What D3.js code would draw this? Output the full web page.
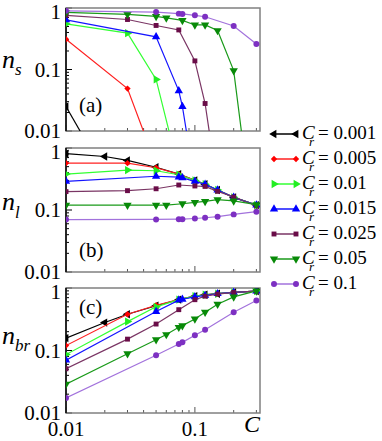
<!DOCTYPE html>
<html>
<head>
<meta charset="utf-8">
<script src="https://cdn.jsdelivr.net/npm/d3@7"></script>
<style>
  body { margin: 0; background: #fff; }
</style>
</head>
<body>
<script>
// C_r values and legend text
const crLabels = ["0.001", "0.005", "0.01", "0.015", "0.025", "0.05", "0.1"];
const colors = ["#000000", "#ff0000", "#22ee22", "#0000ff", "#6a0d48", "#088a08", "#7d30c2"];
const lineColors = ["#000000", "#ff2020", "#33ff33", "#1515ff", "#7a3564", "#1a9a1a", "#a272dc"];
const shapes = ["left", "diamond", "right", "up", "square", "down", "circle"];

// panel (a): n_s vs C
const nsData = [
  [[0.01, 0.025], [0.02, 0.002]],
  [[0.01, 0.31], [0.03, 0.049], [0.05, 0.0028]],
  [[0.01, 0.55], [0.03, 0.39], [0.05, 0.069], [0.075, 0.0023]],
  [[0.01, 0.64], [0.05, 0.34], [0.075, 0.045], [0.08, 0.025], [0.1, 0.0014]],
  [[0.01, 0.76], [0.03, 0.65], [0.05, 0.52], [0.075, 0.44], [0.1, 0.138], [0.12, 0.028], [0.15, 0.0012]],
  [[0.01, 0.85], [0.03, 0.79], [0.05, 0.73], [0.06, 0.69], [0.08, 0.63], [0.1, 0.53], [0.12, 0.53], [0.15, 0.43], [0.2, 0.096], [0.3, 0.00012]],
  [[0.01, 0.90], [0.05, 0.86], [0.075, 0.81], [0.08, 0.80], [0.1, 0.76], [0.12, 0.72], [0.2, 0.51], [0.3, 0.26]]
];

// panel (b): n_l vs C
const nlData = [
  [[0.01, 0.81], [0.02, 0.73], [0.03, 0.63], [0.05, 0.49], [0.075, 0.38], [0.1, 0.30], [0.12, 0.26], [0.15, 0.21], [0.2, 0.16], [0.3, 0.12]],
  [[0.01, 0.57], [0.03, 0.57], [0.05, 0.48], [0.075, 0.38], [0.1, 0.30], [0.12, 0.26], [0.15, 0.21], [0.2, 0.16], [0.3, 0.12]],
  [[0.01, 0.38], [0.03, 0.44], [0.05, 0.43], [0.075, 0.37], [0.1, 0.30], [0.12, 0.26], [0.15, 0.21], [0.2, 0.16], [0.3, 0.12]],
  [[0.01, 0.29], [0.05, 0.35], [0.075, 0.34], [0.08, 0.33], [0.1, 0.29], [0.12, 0.26], [0.15, 0.21], [0.2, 0.16], [0.3, 0.12]],
  [[0.01, 0.198], [0.03, 0.205], [0.05, 0.22], [0.075, 0.253], [0.1, 0.244], [0.12, 0.24], [0.15, 0.20], [0.2, 0.162], [0.3, 0.117]],
  [[0.01, 0.12], [0.03, 0.12], [0.05, 0.12], [0.06, 0.12], [0.08, 0.126], [0.1, 0.133], [0.12, 0.138], [0.15, 0.147], [0.2, 0.14], [0.3, 0.122]],
  [[0.01, 0.07], [0.05, 0.0705], [0.075, 0.071], [0.08, 0.071], [0.1, 0.073], [0.12, 0.075], [0.15, 0.078], [0.2, 0.085], [0.3, 0.094]]
];

// panel (c): n_br vs C
const nbrData = [
  [[0.01, 0.158], [0.02, 0.28], [0.03, 0.38], [0.05, 0.52], [0.075, 0.65], [0.1, 0.74], [0.12, 0.78], [0.15, 0.81], [0.2, 0.85], [0.3, 0.89]],
  [[0.01, 0.12], [0.03, 0.38], [0.05, 0.53], [0.075, 0.65], [0.1, 0.74], [0.12, 0.78], [0.15, 0.81], [0.2, 0.85], [0.3, 0.89]],
  [[0.01, 0.086], [0.03, 0.29], [0.05, 0.50], [0.075, 0.65], [0.1, 0.74], [0.12, 0.78], [0.15, 0.81], [0.2, 0.85], [0.3, 0.89]],
  [[0.01, 0.07], [0.05, 0.42], [0.075, 0.64], [0.08, 0.66], [0.1, 0.72], [0.12, 0.76], [0.15, 0.81], [0.2, 0.85], [0.3, 0.89]],
  [[0.01, 0.051], [0.03, 0.152], [0.05, 0.265], [0.075, 0.45], [0.1, 0.65], [0.12, 0.74], [0.15, 0.80], [0.2, 0.85], [0.3, 0.89]],
  [[0.01, 0.029], [0.03, 0.089], [0.05, 0.149], [0.06, 0.18], [0.075, 0.235], [0.08, 0.25], [0.1, 0.32], [0.12, 0.41], [0.15, 0.55], [0.2, 0.72], [0.3, 0.90]],
  [[0.01, 0.0174], [0.05, 0.084], [0.075, 0.127], [0.08, 0.135], [0.1, 0.175], [0.12, 0.215], [0.2, 0.41], [0.3, 0.63]]
];

const yTicks = [0.01, 0.1, 1];
const xTicks = [0.01, 0.1];
const panelNames = ["(a)", "(b)", "(c)"];
const yNames = ["s", "l", "br"];

const W = 382, H = 441;
const FONT = "Liberation Serif";
const svg = d3.select("body").append("svg")
  .attr("width", W).attr("height", H);

// every text gets the serif family directly
function label(sel, px, py, size, str, italic) {
  return sel.append("text")
    .attr("x", px).attr("y", py)
    .attr("font-family", FONT)
    .attr("font-size", size)
    .attr("font-style", italic ? "italic" : "normal")
    .text(str);
}

const x = d3.scaleLog().domain([0.01, 0.32]).range([66, 260]);

const panels = [
  {data: nsData, top: 8, bottom: 131, nBase: 68, subBase: 75, labBase: 112},
  {data: nlData, top: 148, bottom: 272, nBase: 210, subBase: 218, labBase: 257},
  {data: nbrData, top: 288, bottom: 413, nBase: 344, subBase: 351, labBase: 314}
];

function symbolPath(shape) {
  const sym = {
    left: d3.symbolTriangle, right: d3.symbolTriangle, up: d3.symbolTriangle, down: d3.symbolTriangle,
    diamond: d3.symbolSquare, square: d3.symbolSquare, circle: d3.symbolCircle
  }[shape];
  const size = {left: 30, right: 30, up: 30, down: 30, diamond: 20, square: 24, circle: 28}[shape];
  return d3.symbol(sym, size)();
}
function symbolRot(shape) {
  return {left: -90, right: 90, down: 180, diamond: 45}[shape] || 0;
}

const minors = [];
[0.01, 0.1].forEach(d => { for (let k = 2; k <= 9; k++) minors.push(d * k); });

panels.forEach((p, pi) => {
  const y = d3.scaleLog().domain([0.01, 1]).range([p.bottom, p.top]);
  const g = svg.append("g");

  svg.append("clipPath").attr("id", "clip" + pi)
    .append("rect")
    .attr("x", 66).attr("y", p.top)
    .attr("width", 260 - 66).attr("height", p.bottom - p.top);

  // ticks (inward)
  minors.filter(v => v < 0.32).forEach(v => {
    g.append("line").attr("x1", x(v)).attr("x2", x(v))
      .attr("y1", p.bottom).attr("y2", p.bottom - 3)
      .attr("stroke", "#555").attr("stroke-width", 1);
  });
  xTicks.forEach(v => {
    g.append("line").attr("x1", x(v)).attr("x2", x(v))
      .attr("y1", p.bottom).attr("y2", p.bottom - 6)
      .attr("stroke", "#555").attr("stroke-width", 1);
  });
  minors.forEach(v => {
    g.append("line").attr("x1", 66).attr("x2", 69)
      .attr("y1", y(v)).attr("y2", y(v))
      .attr("stroke", "#000").attr("stroke-width", 1);
  });
  yTicks.forEach(v => {
    g.append("line").attr("x1", 66).attr("x2", 72)
      .attr("y1", y(v)).attr("y2", y(v))
      .attr("stroke", "#000").attr("stroke-width", 1);
  });

  // frame
  g.append("rect").attr("x", 66).attr("y", p.top)
    .attr("width", 260 - 66).attr("height", p.bottom - p.top)
    .attr("fill", "none").attr("stroke", "#808080").attr("stroke-width", 1.5);
  g.append("line").attr("x1", 66).attr("x2", 66)
    .attr("y1", p.top).attr("y2", p.bottom)
    .attr("stroke", "#000").attr("stroke-width", 1.5);

  // y tick labels
  yTicks.forEach(v => {
    label(g, 61, y(v) + (v === 1 ? 4 : 0), 21, v === 1 ? "1" : String(v), false)
      .attr("dy", "0.35em")
      .attr("text-anchor", "end");
  });

  // y axis name
  label(g, 2, p.nBase, 26, "n", true);
  label(g, 15, p.subBase, 17, yNames[pi], true);

  // panel label
  label(g, 79, p.labBase, 21, panelNames[pi], false);

  const plot = g.append("g").attr("clip-path", "url(#clip" + pi + ")");
  const line = d3.line().x(d => x(d[0])).y(d => y(d[1]));

  p.data.forEach((series, si) => {
    plot.append("path").datum(series)
      .attr("d", line)
      .attr("fill", "none")
      .attr("stroke", lineColors[si])
      .attr("stroke-width", 1.2);
    plot.selectAll(null).data(series).enter().append("path")
      .attr("d", symbolPath(shapes[si]))
      .attr("transform", d => "translate(" + x(d[0]) + "," + y(d[1]) + ") rotate(" + symbolRot(shapes[si]) + ")")
      .attr("fill", colors[si]);
  });
});

// x tick labels and axis name
xTicks.forEach(v => {
  label(svg, x(v), 436, 21, String(v), false).attr("text-anchor", "middle");
});
label(svg, 244, 432, 24, "C", true);

// legend
const legend = svg.append("g");
crLabels.forEach((lab, i) => {
  const ry = 134 + 25 * i;
  legend.append("line").attr("x1", 274).attr("x2", 296)
    .attr("y1", ry).attr("y2", ry)
    .attr("stroke", lineColors[i]).attr("stroke-width", 1.5);
  [274, 296].forEach(px => {
    legend.append("path").attr("d", symbolPath(shapes[i]))
      .attr("transform", "translate(" + px + "," + ry + ") rotate(" + symbolRot(shapes[i]) + ")")
      .attr("fill", colors[i]);
  });
  label(legend, 302, ry + 5, 19, "C", true);
  label(legend, 309, ry + 11.5, 13, "r", true);
  label(legend, 318, ry + 5, 19, "= " + lab, false);
});
</script>
</body>
</html>
